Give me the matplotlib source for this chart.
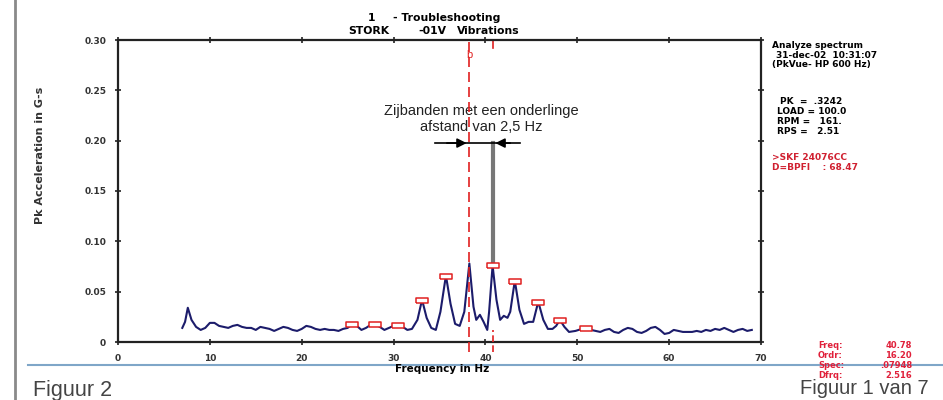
import matplotlib
matplotlib.use("Agg")
import matplotlib.pyplot as plt
from matplotlib.lines import Line2D

plt.rcParams['font.family'] = ['Liberation Sans', 'DejaVu Sans']

# ---------------- data ----------------
freq = [7.0, 7.3, 7.6, 8.0, 8.5, 9.0, 9.5, 10.0, 10.5, 11.0, 11.5, 12.0, 12.5, 13.0,
        13.5, 14.0, 14.5, 15.0, 15.5, 16.0, 16.5, 17.0, 17.5, 18.0, 18.5, 19.0, 19.5,
        20.0, 20.5, 21.0, 21.5, 22.0, 22.5, 23.0, 23.5, 24.0, 24.5, 25.0, 25.5, 26.0,
        26.5, 27.0, 27.5, 28.0, 28.5, 29.0, 29.5, 30.0, 30.5, 31.0, 31.5, 32.0, 32.6,
        33.1, 33.6, 34.1, 34.6, 35.1, 35.7, 36.2, 36.7, 37.2, 37.7, 38.25, 38.7, 39.0,
        39.4, 39.8, 40.2, 40.4, 40.78, 41.2, 41.6, 42.0, 42.4, 42.7, 43.2, 43.7, 44.2,
        44.7, 45.2, 45.75, 46.3, 46.8, 47.3, 47.7, 48.1, 48.6, 49.1, 49.8, 50.5, 51.0,
        51.5, 52.0, 52.5, 53.0, 53.5, 54.0, 54.5, 55.0, 55.5, 56.0, 56.5, 57.0, 57.5,
        58.0, 58.5, 59.0, 59.5, 60.0, 60.5, 61.0, 61.5, 62.0, 62.5, 63.0, 63.5, 64.0,
        64.5, 65.0, 65.5, 66.0, 66.5, 67.0, 67.5, 68.0, 68.5, 69.0]
amp = [0.014, 0.020, 0.034, 0.022, 0.015, 0.012, 0.014, 0.019, 0.019, 0.016, 0.015,
       0.014, 0.016, 0.017, 0.015, 0.014, 0.014, 0.012, 0.015, 0.014, 0.013, 0.011,
       0.013, 0.015, 0.014, 0.012, 0.011, 0.013, 0.016, 0.015, 0.013, 0.012, 0.013,
       0.012, 0.012, 0.011, 0.013, 0.014, 0.018, 0.016, 0.012, 0.014, 0.017, 0.018,
       0.015, 0.012, 0.014, 0.016, 0.017, 0.015, 0.012, 0.013, 0.022, 0.042, 0.024,
       0.014, 0.012, 0.030, 0.066, 0.038, 0.018, 0.016, 0.030, 0.078, 0.035, 0.022,
       0.027, 0.020, 0.012, 0.030, 0.076, 0.042, 0.022, 0.026, 0.024, 0.030, 0.061,
       0.032, 0.018, 0.020, 0.020, 0.040, 0.022, 0.013, 0.013, 0.016, 0.022, 0.015,
       0.010, 0.011, 0.013, 0.014, 0.012, 0.011, 0.010, 0.012, 0.013, 0.010, 0.009,
       0.012, 0.014, 0.013, 0.010, 0.009, 0.011, 0.014, 0.015, 0.012, 0.008, 0.009,
       0.012, 0.011, 0.010, 0.010, 0.010, 0.011, 0.010, 0.012, 0.011, 0.013, 0.012,
       0.014, 0.012, 0.010, 0.012, 0.013, 0.011, 0.012]

marker_freq = [25.5, 28.0, 30.5, 33.1, 35.7, 40.78, 43.2, 45.75, 48.1, 51.0]
marker_amp = [0.018, 0.018, 0.017, 0.042, 0.066, 0.076, 0.061, 0.040, 0.022, 0.014]

cursor_freq = 40.78
ref_freq = 38.26
xticks = [0, 10, 20, 30, 40, 50, 60, 70]
yticks = [0, 0.05, 0.10, 0.15, 0.20, 0.25, 0.30]
ytick_labels = ['0', '0.05', '0.10', '0.15', '0.20', '0.25', '0.30']

# ---------------- figure ----------------
W, H = 943, 400
fig = plt.figure(figsize=(W / 100, H / 100), dpi=100)
fig.patch.set_facecolor('white')

def fx(px):
    return px / W

def fy(py):
    return 1 - py / H

SMALL = ['DejaVu Sans']

ax = fig.add_axes([fx(118), fy(342), fx(761) - fx(118), fy(40) - fy(342)])
ax.set_xlim(0, 70)
ax.set_ylim(0, 0.30)

ax.plot(freq, amp, color='#1c1c6b', lw=1.5, zorder=3)
rect = [(-1, -0.45), (1, -0.45), (1, 0.45), (-1, 0.45), (-1, -0.45)]
ax.plot(marker_freq, marker_amp, ls='none', marker=rect, markersize=8,
        markerfacecolor='white', markeredgecolor='#e02020', markeredgewidth=1.1, zorder=4)

for s in ax.spines.values():
    s.set_linewidth(1.6)
    s.set_color('#222222')

ax.set_xticks(xticks)
ax.set_xticklabels([str(t) for t in xticks], fontsize=6.5, fontweight='bold',
                   family=SMALL)
ax.set_yticks(yticks)
ax.set_yticklabels(ytick_labels, fontsize=6.5, fontweight='bold', family=SMALL)
ax.tick_params(axis='both', direction='inout', length=5, width=1.2, pad=6,
               top=True, right=True, colors='#222222')
for lab in ax.get_xticklabels() + ax.get_yticklabels():
    lab.set_color('#333333')

# cursor lines
ax.plot([ref_freq, ref_freq], [-0.01, 0.30], color='#e02020', lw=1.2, ls=(0, (6, 3)),
        clip_on=False, zorder=5)
ax.text(ref_freq, 0.285, 'b', color='#e02020', fontsize=8, ha='center', va='center')
ax.plot([cursor_freq, cursor_freq], [0.292, 0.30], color='#e02020', lw=1.2, clip_on=False)
ax.plot([cursor_freq, cursor_freq], [-0.01, 0.012], color='#e02020', lw=1.2,
        ls=(0, (4, 2)), clip_on=False, zorder=5)
ax.plot([cursor_freq, cursor_freq], [0.080, 0.198], color='#777777', lw=3, zorder=2)

# double arrow annotation
ay = 0.1976
ax.plot([34.5, 43.8], [ay, ay], color='black', lw=1.2)
ax.annotate('', xy=(ref_freq, ay), xytext=(35.5, ay),
            arrowprops=dict(arrowstyle='-|>', color='black', lw=1.2, mutation_scale=14))
ax.annotate('', xy=(cursor_freq, ay), xytext=(43.0, ay),
            arrowprops=dict(arrowstyle='-|>', color='black', lw=1.2, mutation_scale=14))
ax.text(39.5, 0.2215, 'Zijbanden met een onderlinge\nafstand van 2,5 Hz', ha='center',
        va='center', fontsize=10.5, color='#222222', linespacing=1.15)

# titles and labels
tkw = dict(fontsize=7.8, fontweight='bold', ha='left', va='center', family=SMALL)
fig.text(fx(368), fy(18), '1', **tkw)
fig.text(fx(393), fy(18), '- Troubleshooting', **tkw)
fig.text(fx(348), fy(31), 'STORK', **tkw)
fig.text(fx(418), fy(31), '-01V', **tkw)
fig.text(fx(457), fy(31), 'Vibrations', **tkw)

fig.text(fx(442), fy(369), 'Frequency in Hz', fontsize=7.5, fontweight='bold',
         ha='center', va='center', family=SMALL)
fig.text(fx(40), fy(155), 'Pk Acceleration in G-s', fontsize=8, fontweight='bold',
         rotation=90, ha='center', va='center', family=SMALL, color='#333333')

right_lines = [
    (772, 45, 'Analyze spectrum', 'black'),
    (776, 55, '31-dec-02  10:31:07', 'black'),
    (772, 65, '(PkVue- HP 600 Hz)', 'black'),
    (780, 102, 'PK  =  .3242', 'black'),
    (777, 112, 'LOAD = 100.0', 'black'),
    (777, 122, 'RPM =   161.', 'black'),
    (777, 132, 'RPS =   2.51', 'black'),
    (772, 157, '>SKF 24076CC', '#d02030'),
    (772, 167, 'D=BPFI    : 68.47', '#d02030'),
]
for x, y, t, c in right_lines:
    fig.text(fx(x), fy(y), t, fontsize=6.5, fontweight='bold', color=c, ha='left',
             va='center', family=SMALL)

# frame decorations
fig.add_artist(Line2D([fx(15), fx(15)], [0, 1], color='#8a8a8a', lw=2))
fig.add_artist(Line2D([fx(28), 1], [fy(365), fy(365)], color='#7fa6c8', lw=1.5))
fig.text(fx(33), fy(396), 'Figuur 2', fontsize=15.5, color='#444444', ha='left', va='baseline')
fig.text(fx(800), fy(394), 'Figuur 1 van 7', fontsize=14.5, color='#444444', ha='left',
         va='baseline', zorder=1)

red_rows = [('Freq:', '40.78', 345), ('Ordr:', '16.20', 355),
            ('Spec:', '.07948', 366), ('Dfrq:', '2.516', 376)]
for lab, val, y in red_rows:
    fig.text(fx(818), fy(y), lab, fontsize=6, fontweight='bold', color='#e0203a',
             ha='left', va='center', family=SMALL, zorder=3)
    fig.text(fx(912), fy(y), val, fontsize=6, fontweight='bold', color='#e0203a',
             ha='right', va='center', family=SMALL, zorder=3)

fig.savefig('out.png', dpi=100, facecolor='white')
